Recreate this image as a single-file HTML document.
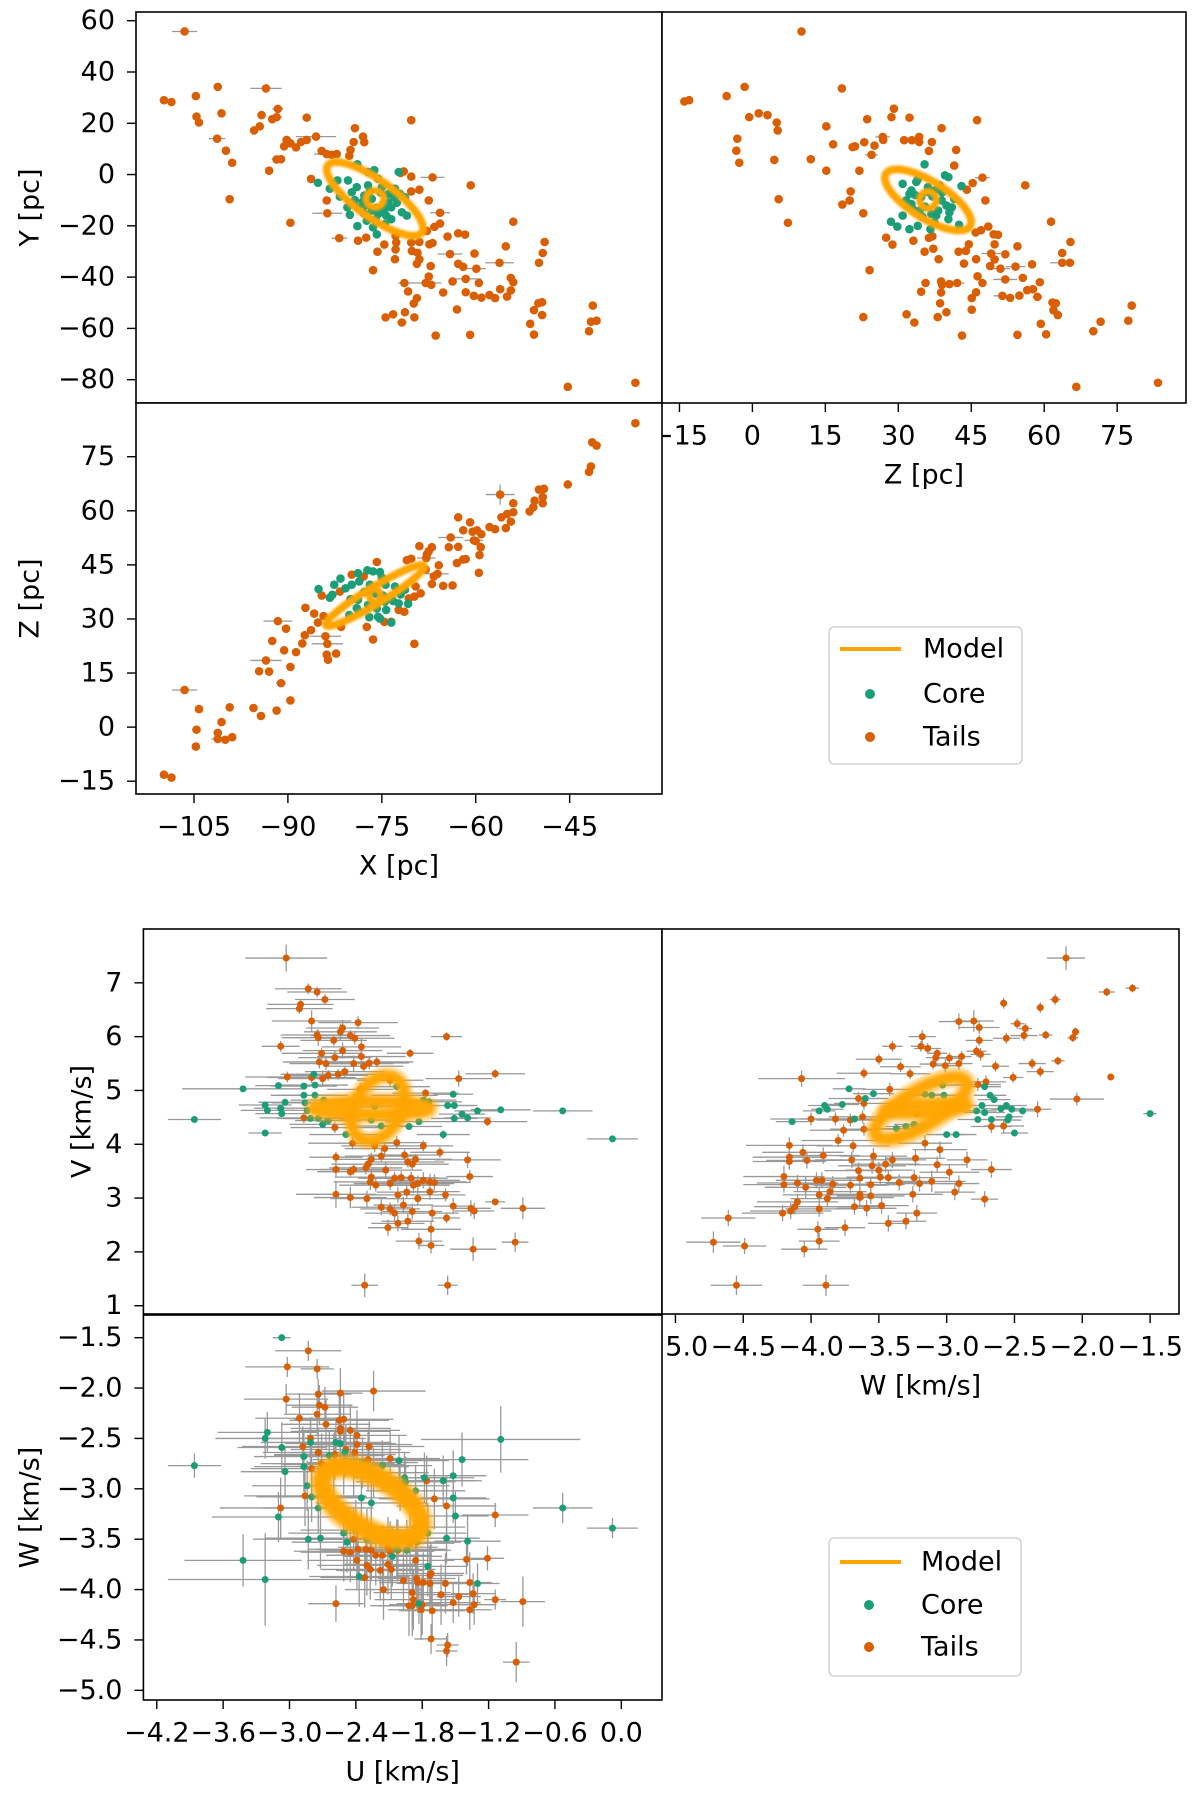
<!DOCTYPE html>
<html><head><meta charset="utf-8"><title>Cluster XYZ and UVW projections</title>
<style>
html,body{margin:0;padding:0;background:#fff;}
svg{display:block;font-family:"DejaVu Sans","Liberation Sans",sans-serif;}
</style></head>
<body>
<svg id="fig" xmlns="http://www.w3.org/2000/svg" width="1200" height="1798" viewBox="0 0 1200 1798">
<defs>
<filter id="blur1" x="-20%" y="-20%" width="140%" height="140%"><feGaussianBlur stdDeviation="0.9"/></filter>
<filter id="blur2" x="-20%" y="-20%" width="140%" height="140%"><feGaussianBlur stdDeviation="1.6"/></filter>
</defs>
<rect x="0" y="0" width="1200" height="1798" fill="#fff"/>
<g id="panels"></g>
<g>
  <rect x="829" y="627" width="193" height="137" rx="5" fill="#fff" fill-opacity="0.8" stroke="#cccccc" stroke-width="1.3"/>
  <line x1="840" y1="649" x2="901" y2="649" stroke="#ffa500" stroke-width="4"/>
  <text x="923" y="649" font-size="27" dominant-baseline="central">Model</text>
  <circle cx="870" cy="694" r="5" fill="#1b9e77"/>
  <text x="923" y="694" font-size="27" dominant-baseline="central">Core</text>
  <circle cx="870" cy="737" r="5" fill="#d95f02"/>
  <text x="923" y="737" font-size="27" dominant-baseline="central">Tails</text>
</g>
<g>
  <rect x="829" y="1538" width="192" height="138" rx="5" fill="#fff" fill-opacity="0.8" stroke="#cccccc" stroke-width="1.3"/>
  <line x1="840" y1="1562" x2="901" y2="1562" stroke="#ffa500" stroke-width="4"/>
  <text x="921" y="1562" font-size="27" dominant-baseline="central">Model</text>
  <circle cx="869" cy="1605" r="5" fill="#1b9e77"/>
  <text x="921" y="1605" font-size="27" dominant-baseline="central">Core</text>
  <circle cx="869" cy="1647" r="5" fill="#d95f02"/>
  <text x="921" y="1647" font-size="27" dominant-baseline="central">Tails</text>
</g>
</svg>
<script>
// ---------------- Panel A: X vs Y ----------------
const aTailsX = [-106.5,-109.8,-108.6,-104.7,-101.2,-93.5,-100.6,-104.6,-104.2,-101.3,
-99.9,-98.9,-99.3,-91.6,-91.8,-92.5,-94.2,-94.5,-95.4,-87.0,
-93.0,-91.8,-91.1,-90.6,-90.2,-89.6,-88.7,-87.9,-87.0,-85.5,
-79.3,-78.0,-77.8,-79.5,-80.0,-80.2,-84.6,-83.8,-83.0,-82.2,
-70.3,-89.6,-83.7,-81.8,-86.3,-83.8,-78.8,-77.5,-76.4,-75.7,
-74.6,-72.9,-72.8,-72.7,-72.8,-70.3,-70.2,-69.3,-69.0,-69.4,
-69.0,-67.2,-67.5,-67.1,-68.0,-67.4,-66.9,-66.6,-65.7,-65.7,
-67.5,-69.0,-70.3,-70.3,-71.5,-72.0,-66.9,-60.8,-64.5,-62.8,
-61.7,-64.1,-60.2,-62.8,-62.0,-59.9,-63.7,-61.6,-59.5,-65.2,
-61.6,-60.3,-59.1,-57.8,-56.9,-56.1,-55.0,-54.4,-54.4,-54.0,
-56.2,-55.2,-54.0,-49.0,-49.3,-49.9,-50.0,-49.4,-50.7,-49.4,
-51.3,-50.7,-41.3,-41.6,-40.7,-41.9,-71.3,-73.2,-74.4,-71.8,
-69.8,-69.9,-69.4,-70.8,-71.4,-66.4,-60.9,-63.0,-45.3,-34.5,-67.8];
const aTailsY = [55.8,29.0,28.3,30.6,34.2,33.6,23.9,22.6,20.3,14.0,
9.3,4.6,-9.6,25.6,22.4,21.6,23.2,18.8,17.2,22.2,
1.5,5.9,6.0,11.0,13.5,12.2,10.6,12.7,13.5,14.8,
18.1,14.8,12.6,12.7,9.6,7.3,9.2,8.0,7.7,8.0,
21.2,-18.8,-15.1,-24.8,-1.7,-10.1,-25.8,-24.6,-37.3,-30.1,
-27.3,-33.0,-29.2,-26.5,-23.9,-26.5,-29.8,-30.5,-33.1,-34.8,
-26.3,-35.7,-39.8,-43.0,-42.3,-27.2,-26.7,-20.4,-19.1,-14.9,
-10.1,-5.9,-6.6,-0.8,1.2,0.6,-1.1,-4.2,-24.2,-22.9,
-23.4,-31.0,-30.8,-34.8,-36.0,-36.7,-41.7,-40.7,-42.3,-46.0,
-45.9,-47.3,-48.0,-47.0,-48.2,-44.7,-47.6,-45.2,-40.3,-42.0,
-34.4,-28.0,-18.4,-26.3,-30.6,-34.4,-50.2,-49.8,-52.9,-54.8,
-58.2,-62.4,-51.1,-57.4,-57.0,-61.1,-53.7,-54.5,-55.7,-57.7,
-55.7,-50.3,-48.2,-45.6,-42.3,-62.8,-62.5,-52.6,-82.8,-81.2,-22.0];
const aTailsXerrIdx = [0,1,2,3,5,9,13,14,21,29,37,42,43,64,69,76,81,85,87,100,119,124];
const aTailsXerrVal = [2.0,0.6,0.6,0.5,2.5,1.3,0.9,0.9,0.8,3.2,2.0,2.4,1.3,2.5,1.6,1.9,2.0,1.5,2.5,2.3,0.8,1.0];
const aCoreX = [-85.2,-83.3,-81.7,-80.4,-78.9,-77.2,-76.2,-75.6,-79.8,-79.0,
-77.2,-77.8,-75.0,-73.9,-72.9,-72.3,-72.1,-71.3,-80.5,-80.1,
-78.8,-76.6,-75.6,-74.3,-73.5,-74.5,-76.4,-77.4,-78.9,-71.8,
-71.0,-73.5,-74.7,-76.6,-75.8,-82.1,-78.0,-76.9,-75.2,-74.0,
-73.0,-77.6,-75.9,-74.6,-79.3,-72.6,-76.0,-77.9];
const aCoreY = [-3.2,-5.5,-8.6,-2.3,4.0,1.0,1.7,-1.6,-6.9,-4.9,
-4.2,-8.2,-4.9,-7.5,-5.5,1.0,-7.5,-8.8,-12.8,-15.7,
-12.8,-14.1,-15.4,-16.0,-17.4,-19.3,-20.6,-18.0,-20.1,-14.7,
-16.0,-12.8,-11.5,-9.5,-23.3,-2.3,-10.5,-6.5,-7.0,-10.8,
-9.0,-12.0,-13.0,-13.8,-10.0,-11.0,-17.5,-15.0];
const aModelOuter = [-76.1,-9.5,-7.5,13.1,1.7,5.9];
const aModelInner = [-76.1,-9.5,1.4,0,0,3.3];
const aYTicks = [-80,-60,-40,-20,0,20,40,60];

// ---------------- Panel B: Z vs Y ----------------
const bTailsZ = [10.1,-14.0,-13.0,-5.3,-1.6,18.4,-0.65,1.3,3.1,5.0,
5.2,-3.1,-3.3,-2.7,4.5,5.4,7.3,12.0,15.2,16.6,
15.2,20.6,21.1,23.0,25.1,23.6,29.1,28.6,32.3,26.8,
26.9,24.5,31.2,32.8,34.3,34.3,36.9,36.3,38.9,46.2,
41.9,41.5,22.0,20.2,20.0,18.5,22.8,24.1,22.8,27.5,
28.8,33.1,35.4,36.3,37.0,37.2,38.3,35.6,34.7,38.8,
39.0,40.5,42.1,38.8,38.6,39.9,38.1,31.7,33.3,43.1,
43.5,42.4,43.9,44.5,46.0,46.3,47.3,46.0,45.1,45.1,
45.9,47.0,48.5,47.9,47.3,45.3,44.1,49.6,50.5,49.8,
49.1,49.8,48.9,51.0,52.0,54.1,54.5,52.0,55.6,57.5,
59.1,57.7,56.5,51.4,53.0,54.9,58.6,54.5,60.4,59.3,
56.1,61.4,61.7,62.4,61.9,62.8,63.7,63.7,65.3,65.4,
70.1,71.6,77.3,78.0,66.6,83.4];
const bTailsY = [55.8,28.5,29.0,30.6,34.2,33.6,22.4,23.9,23.2,20.3,
17.2,14.0,9.3,4.6,5.7,-9.6,-18.8,6.0,18.8,11.8,
1.5,10.7,11.0,12.6,11.3,21.6,25.7,22.4,22.2,14.7,
13.5,7.7,13.4,13.4,14.7,12.7,12.7,9.2,18.1,21.2,
9.6,3.5,1.5,-6.6,-10.1,-11.7,-15.1,-37.3,-55.6,-24.6,
-27.3,-25.8,-30.1,-24.7,-24.1,-28.9,-33.0,-42.3,-45.7,-41.7,
-43.0,-42.7,-42.3,-46.0,-50.2,-53.7,-55.6,-54.5,-57.7,-62.8,
-34.7,-30.1,-29.8,-27.2,-33.0,-39.7,-42.3,-45.9,-48.2,-52.7,
-22.6,-21.7,-20.3,-10.1,-1.2,-3.3,-5.9,-23.3,-23.5,-27.2,
-30.8,-33.1,-35.7,-36.7,-31.1,-35.9,-28.0,-40.9,-40.3,-35.0,
-42.0,-44.7,-45.1,-47.3,-48.1,-47.2,-47.7,-62.5,-62.3,-58.2,
-4.2,-18.4,-49.9,-50.2,-52.9,-54.8,-30.6,-34.4,-34.4,-26.3,
-61.1,-57.4,-57.0,-51.1,-82.8,-81.2];
const bTailsXerrIdx = [5,29,31,46,62,84,90,93,95,97,103,106,117];
const bTailsXerrVal = [0.8,1.5,1.3,0.8,1.5,1.5,2.0,2.0,2.0,2.5,1.8,1.0,2.5];
const bCoreZ = [35.4,34.0,33.7,39.6,40.3,43.0,30.9,32.3,31.6,32.7,
34.4,36.8,38.2,38.9,39.9,37.5,36.1,38.5,30.9,28.5,
29.8,32.3,34.0,36.6,37.4,40.3,42.5,41.0,34.7,32.7,
33.5,35.5,37.0,39.0,41.5,35.0,37.8,33.0,36.0,40.5];
const bCoreY = [4.0,-1.9,-2.9,-0.3,-1.0,-4.5,-3.6,-7.5,-10.1,-11.5,
-14.1,-15.4,-14.1,-10.1,-12.1,-6.2,-4.9,-4.2,-16.0,-18.4,
-20.3,-21.3,-20.0,-21.3,-18.7,-17.4,-19.6,-12.8,-8.8,-6.2,
-8.0,-12.5,-8.5,-7.0,-9.5,-16.5,-16.0,-13.5,-6.8,-14.8];
const bModelOuter = [36.1,-9.9,-8.6,10.3,2.1,6.0];
const bModelInner = [36.1,-9.9,1.7,0,0,3.3];
const bXTicks = [-15,0,15,30,45,60,75];

// ---------------- Panel C: X vs Z ----------------
const cTailsX = [-34.5,-41.4,-40.7,-41.6,-41.9,-45.3,-49.9,-49.1,-49.3,-50.6,
-49.3,-50.8,-51.4,-56.1,-54.0,-54.0,-55.0,-55.9,-54.4,-55.2,
-56.9,-57.8,-62.8,-60.9,-62.0,-60.5,-59.8,-59.1,-60.3,-60.0,
-59.2,-59.4,-59.5,-64.0,-64.3,-62.8,-62.0,-61.6,-63.0,-63.7,
-65.2,-67.0,-67.0,-67.5,-67.8,-67.9,-69.0,-65.9,-66.1,-66.7,
-68.0,-71.0,-70.3,-69.6,-68.8,-69.8,-70.7,-71.4,-72.3,-75.8,
-79.8,-77.9,-81.7,-84.6,-87.2,-85.8,-84.3,-85.2,-86.3,-87.3,
-84.0,-83.7,-83.8,-83.6,-82.3,-81.5,-77.4,-76.4,-69.8,-74.6,
-73.5,-91.6,-90.3,-92.5,-90.6,-88.7,-87.7,-93.5,-94.6,-93.0,
-89.6,-91.1,-106.5,-104.2,-99.3,-95.5,-94.3,-91.8,-89.6,-100.6,
-104.6,-101.2,-101.2,-100.0,-98.9,-104.7,-109.8,-108.6];
const cTailsZ = [84.3,79.0,78.1,72.3,70.8,67.3,65.9,66.1,63.8,62.8,
62.1,61.0,59.8,64.5,62.1,59.6,59.1,58.2,57.0,55.2,
54.9,55.5,58.2,56.8,54.6,54.2,54.6,53.5,51.8,51.6,
49.9,47.7,42.8,52.6,49.9,50.0,46.5,46.6,45.5,39.3,
39.2,39.7,49.9,48.8,47.9,46.9,50.2,44.9,42.5,41.8,
43.7,46.3,46.7,39.0,37.1,36.2,35.7,32.0,32.5,45.8,
42.3,41.8,37.6,36.5,33.1,31.5,30.8,29.0,26.9,25.5,
25.2,23.1,20.1,18.7,20.4,27.8,27.8,24.3,23.1,29.2,
29.2,29.4,27.3,23.9,21.3,20.8,23.2,18.5,15.5,15.4,
16.7,12.2,10.3,5.0,5.5,5.3,3.1,4.6,7.4,1.4,
-0.7,-1.6,-3.3,-3.5,-2.8,-5.4,-13.2,-14.0];
const cTailsXerrIdx = [13,28,33,45,48,70,71,81,87,91,92,102,105,107];
const cTailsXerrVal = [2.3,1.5,2.0,1.5,1.8,2.5,2.5,2.3,2.5,0.8,2.0,1.0,0.6,0.6];
const cTailsZerrIdx = [13,33];
const cTailsZerrVal = [2.8,1.0];
const cCoreX = [-85.1,-83.3,-82.9,-82.6,-81.6,-80.8,-79.8,-78.8,-77.3,-76.4,
-75.3,-78.6,-76.9,-74.4,-72.9,-71.3,-73.5,-74.5,-75.8,-77.2,
-78.8,-80.2,-78.6,-75.6,-75.3,-73.5,-72.3,-70.8,-74.3,-80.0,
-77.8,-76.0,-74.8,-73.2,-79.0,-75.0,-72.0,-77.0];
const cCoreZ = [38.3,35.9,36.7,39.5,41.2,38.5,39.5,42.7,43.5,43.2,
43.0,40.4,39.5,39.5,39.0,38.1,36.2,34.8,32.9,33.9,
35.3,31.1,32.0,30.6,30.1,29.0,34.3,34.2,32.5,35.5,
37.5,37.0,36.5,35.0,33.0,41.5,36.8,30.5];
const cModelOuter = [-76.1,36.5,-7.8,-8.2,0.7,-2.0];
const cModelInner = [-76.1,36.5,0.9,0,0,1.7];
const cXTicks = [-105,-90,-75,-60,-45];
const cYTicks = [-15,0,15,30,45,60,75];

// ---------------- Panel D: U vs V ----------------
const dTailsU = [-3.03,-2.83,-2.75,-2.68,-2.90,-2.91,-2.80,-2.38,-2.52,-2.54,
-2.75,-2.74,-2.60,-2.45,-2.41,-3.08,-2.52,-2.35,-2.35,-2.71,
-2.59,-2.73,-2.67,-2.42,-2.28,-2.21,-2.33,-1.58,-1.91,-1.14,
-1.47,-3.02,-2.80,-2.70,-2.65,-2.56,-2.50,-1.77,-1.21,-2.87,
-2.59,-2.43,-2.14,-1.79,-1.64,-1.39,-2.58,-2.58,-2.45,-2.42,
-2.31,-2.29,-2.26,-2.17,-2.13,-1.96,-1.93,-1.86,-1.89,-1.37,
-2.26,-2.27,-2.22,-2.09,-2.05,-1.99,-1.90,-1.88,-1.84,-1.79,
-1.73,-1.69,-2.58,-2.45,-2.30,-2.02,-1.94,-1.84,-1.73,-1.59,
-2.17,-2.09,-2.05,-1.97,-1.89,-1.71,-1.52,-1.36,-1.33,-1.14,
-0.89,-1.58,-1.93,-2.02,-2.11,-1.72,-1.83,-1.72,-1.34,-0.96,
-2.32,-1.57,-2.03,-2.23,-2.36,-2.09];
const dTailsV = [7.46,6.89,6.83,6.69,6.60,6.52,6.29,6.26,6.16,6.09,
6.03,5.98,5.93,6.02,5.97,5.82,5.74,5.81,5.63,5.69,
5.61,5.53,5.50,5.50,5.51,5.53,5.45,6.00,5.69,5.31,
5.22,5.25,5.24,5.22,5.28,5.30,5.35,4.95,4.42,4.49,
4.31,4.02,3.92,3.97,3.85,3.71,3.76,3.53,3.49,3.53,
3.56,3.63,3.72,3.78,3.52,3.80,3.67,3.72,3.63,3.40,
3.39,3.30,3.24,3.27,3.37,3.38,3.37,3.24,3.27,3.33,
3.30,3.29,3.07,3.01,2.99,3.06,3.11,2.99,3.12,3.06,
2.83,2.80,2.72,2.87,2.75,2.72,2.85,2.81,2.76,2.93,
2.81,2.63,2.57,2.53,2.45,2.42,2.20,2.12,2.05,2.18,
1.38,1.38,4.03,3.97,5.02,5.19];
const dTailsUerr = [.37,.3,.27,.27,.3,.3,.36,.36,.33,.33,
.33,.33,.3,.36,.36,.17,.36,.36,.4,.36,
.33,.33,.33,.36,.36,.33,.36,.14,.21,.27,
.3,.38,.4,.4,.36,.36,.36,.3,.36,.4,
.4,.4,.36,.27,.27,.3,.24,.27,.3,.3,
.33,.33,.33,.33,.33,.33,.33,.33,.33,.21,
.33,.33,.33,.33,.33,.33,.33,.33,.33,.33,
.33,.33,.36,.33,.33,.27,.27,.27,.27,.18,
.27,.27,.27,.27,.27,.24,.18,.18,.18,.09,
.2,.12,.24,.24,.18,.27,.21,.12,.21,.12,
.12,.09,.27,.3,.3,.3];
const dTailsVerr = [.25,.1,.1,.1,.1,.1,.2,.12,.15,.15,
.1,.15,.1,.1,.12,.1,.15,.15,.15,.1,
.12,.12,.12,.15,.12,.1,.1,.08,.08,.08,
.15,.1,.1,.15,.1,.1,.1,.08,.08,.1,
.1,.12,.12,.1,.1,.15,.1,.15,.1,.1,
.12,.12,.12,.12,.15,.1,.1,.1,.12,.12,
.15,.15,.12,.12,.12,.12,.12,.15,.15,.15,
.15,.15,.25,.2,.15,.15,.12,.12,.15,.12,
.15,.12,.15,.15,.15,.15,.15,.15,.15,.05,
.2,.1,.15,.15,.15,.15,.15,.15,.22,.18,
.22,.18,.12,.12,.12,.12];
const dCoreU = [-3.86,-3.42,-3.22,-3.22,-3.20,-3.10,-3.08,-3.07,-3.04,-2.87,
-2.87,-2.86,-2.84,-2.81,-2.77,-2.78,-2.77,-2.74,-2.70,-2.69,
-2.65,-2.49,-2.26,-2.17,-2.03,-1.96,-1.92,-1.83,-1.79,-1.74,
-1.61,-1.57,-1.52,-1.51,-1.51,-1.44,-1.39,-1.30,-1.09,-0.53,
-0.08,-2.23,-2.35];
const dCoreV = [4.46,5.03,4.21,4.73,4.63,5.09,4.67,4.57,4.78,5.08,
4.91,4.77,4.63,4.48,4.91,5.30,5.10,4.48,4.37,4.82,
4.44,4.18,4.45,4.34,5.07,4.91,4.33,4.42,4.82,4.79,
4.18,4.72,4.93,4.72,4.48,4.56,4.49,4.62,4.64,4.62,
4.10,4.70,4.82];
const dCoreUerr = [.24,.55,.15,.24,.24,.21,.24,.24,.24,.3,
.3,.3,.3,.3,.3,.3,.3,.3,.3,.3,
.3,.33,.3,.3,.3,.3,.3,.3,.3,.3,
.24,.24,.18,.21,.21,.21,.21,.21,.27,.27,
.23,.3,.3];
const dCoreVerr = [.05,.05,.06,.05,.05,.05,.05,.05,.05,.06,
.06,.06,.06,.06,.06,.06,.06,.06,.06,.06,
.06,.06,.06,.06,.06,.06,.06,.06,.06,.06,
.08,.06,.06,.06,.06,.06,.06,.06,.06,.06,
.05,.06,.06];
const dModel1 = [-2.26,4.67,0.52,0,0,0.12];
const dModel2 = [-2.2,4.67,0.1,0.6,0.22,-0.05];
const dYTicks = [1,2,3,4,5,6,7];

// ---------------- Panel E: W vs V ----------------
const eTailsW = [-2.12,-1.82,-1.63,-2.20,-2.58,-2.31,-2.91,-2.80,-2.76,-2.48,
-2.42,-2.43,-2.56,-2.76,-2.27,-2.05,-2.07,-3.18,-3.40,-3.19,
-3.14,-3.07,-3.08,-2.98,-2.89,-2.78,-2.75,-3.10,-3.01,-2.91,
-2.64,-2.37,-2.31,-2.18,-2.51,-1.79,-3.50,-3.34,-3.27,-3.61,
-4.07,-2.71,-2.04,-2.33,-4.00,-3.82,-3.71,-3.62,-3.61,-3.76,
-3.65,-3.61,-3.80,-3.69,-4.16,-4.06,-4.16,-4.16,-4.03,-3.91,
-3.70,-3.54,-3.40,-3.55,-3.50,-3.45,-3.65,-3.23,-3.07,-2.98,
-2.85,-2.67,-4.20,-4.20,-4.10,-4.04,-3.96,-3.92,-3.84,-3.71,
-3.64,-3.56,-3.49,-3.43,-3.35,-3.24,-3.20,-3.11,-2.91,-3.94,
-3.88,-3.86,-3.64,-3.64,-3.56,-3.25,-2.94,-2.72,-4.21,-4.15,
-4.12,-4.10,-3.94,-3.68,-3.59,-3.48,-3.22,-3.30,-3.43,-3.75,
-3.95,-3.94,-4.05,-4.61,-4.72,-4.49,-4.55,-3.89,-3.16,-3.05,
-2.67,-2.58,-2.77,-3.42];
const eTailsV = [7.46,6.83,6.90,6.69,6.62,6.54,6.28,6.29,6.17,6.24,
6.15,6.02,5.97,5.93,6.03,6.09,5.98,6.00,5.82,5.82,
5.78,5.69,5.61,5.60,5.63,5.73,5.67,5.49,5.46,5.50,
5.45,5.50,5.35,5.55,5.24,5.25,5.58,5.44,5.31,5.32,
5.22,5.16,4.84,4.65,4.47,4.47,4.45,4.51,4.28,4.26,
4.85,4.76,4.07,3.97,3.98,3.85,3.76,3.68,3.70,3.79,
3.71,3.78,3.71,3.60,3.52,3.63,3.51,3.74,3.62,3.48,
3.71,3.53,3.40,3.25,3.28,3.20,3.33,3.33,3.26,3.24,
3.37,3.25,3.39,3.38,3.29,3.38,3.27,3.31,3.27,3.06,
2.99,3.12,3.07,3.01,3.04,3.07,3.11,2.98,2.72,2.76,
2.84,2.93,2.80,2.84,2.81,2.86,2.72,2.57,2.53,2.45,
2.42,2.20,2.05,2.63,2.18,2.11,1.38,1.38,4.02,3.90,
4.33,4.34,5.11,5.02];
const eTailsWerr = [.14,.06,.05,.04,.025,.025,.15,.15,.15,.05,
.05,.1,.1,.1,.05,.025,.04,.1,.074,.074,
.1,.074,.074,.074,.074,.074,.074,.1,.1,.1,
.1,.1,.1,.05,.074,.025,.17,.15,.15,.2,
.32,.15,.2,.1,.3,.27,.25,.25,.25,.25,
.22,.22,.27,.27,.32,.3,.27,.27,.3,.27,
.27,.25,.25,.25,.25,.25,.25,.22,.22,.22,
.15,.15,.3,.3,.3,.3,.3,.3,.3,.27,
.27,.25,.25,.25,.25,.25,.25,.25,.15,.27,
.27,.27,.25,.25,.25,.22,.15,.1,.3,.3,
.3,.3,.25,.22,.22,.2,.15,.15,.15,.15,
.15,.15,.17,.2,.2,.16,.19,.17,.2,.2,
.15,.15,.17,.2];
const eTailsVerr = [.22,.08,.08,.1,.1,.1,.15,.2,.12,.1,
.1,.1,.1,.1,.08,.08,.08,.12,.1,.1,
.1,.1,.12,.1,.1,.1,.12,.1,.12,.12,
.1,.1,.1,.08,.1,.06,.1,.1,.1,.1,
.15,.12,.12,.15,.12,.12,.12,.12,.12,.12,
.12,.12,.12,.12,.15,.15,.15,.15,.15,.15,
.15,.15,.15,.15,.15,.15,.15,.15,.15,.15,
.15,.15,.2,.15,.15,.2,.15,.15,.15,.15,
.15,.15,.15,.15,.15,.15,.15,.2,.15,.15,
.15,.15,.15,.15,.15,.15,.15,.15,.15,.15,
.15,.15,.15,.15,.15,.15,.15,.15,.15,.15,
.15,.15,.15,.15,.2,.15,.18,.2,.15,.15,
.12,.12,.12,.12];
const eCoreW = [-1.50,-4.14,-3.94,-3.90,-3.88,-3.77,-3.72,-3.54,-3.60,-3.68,
-3.37,-3.30,-3.24,-3.16,-3.11,-3.02,-3.03,-3.00,-2.93,-2.78,
-2.74,-2.72,-2.68,-2.65,-2.72,-2.67,-2.77,-2.60,-2.56,-2.52,
-2.44,-2.54,-2.55,-2.50,-3.32,-3.22];
const eCoreV = [4.57,4.42,4.62,4.72,4.65,4.74,5.03,4.94,4.85,4.47,
4.29,4.33,4.37,4.93,4.91,4.91,5.10,4.18,4.18,4.62,
4.72,5.07,4.91,4.83,4.59,4.46,4.46,4.66,4.72,4.65,
4.62,4.51,4.45,4.21,4.70,4.57];
const eCoreWerr = [.05,.12,.12,.12,.12,.12,.12,.15,.15,.15,
.15,.15,.15,.15,.15,.15,.15,.15,.15,.15,
.15,.12,.12,.12,.15,.15,.15,.15,.15,.15,
.1,.1,.1,.1,.15,.15];
const eCoreVerr = [.04,.04,.05,.05,.05,.05,.05,.05,.05,.05,
.05,.05,.05,.05,.05,.05,.05,.05,.05,.05,
.05,.05,.05,.05,.05,.05,.05,.05,.05,.05,
.05,.05,.05,.05,.05,.05];
const eModel1 = [-3.19,4.67,0.33,0.50,0.07,-0.28];
const eModel2 = [-3.15,4.67,0.3,0.05,0,0.08];
const eXTicks = [-5.0,-4.5,-4.0,-3.5,-3.0,-2.5,-2.0,-1.5];

// ---------------- Panel F: U vs W ----------------
const fTailsU = [-2.83,-3.02,-2.75,-2.24,-2.54,-2.74,-3.03,-2.73,-2.68,-2.75,
-2.91,-2.55,-2.51,-2.67,-2.54,-2.45,-2.54,-2.39,-2.81,-2.88,
-2.74,-2.39,-2.28,-2.59,-2.49,-2.41,-2.71,-2.60,-2.51,-2.42,
-2.29,-2.09,-2.80,-1.76,-1.69,-1.58,-2.86,-3.08,-1.14,-1.86,
-2.42,-2.51,-2.45,-2.38,-2.31,-2.26,-2.22,-2.16,-2.11,-2.09,
-2.02,-1.91,-2.39,-2.30,-2.27,-2.18,-2.11,-2.08,-1.86,-2.32,
-2.15,-1.97,-1.85,-1.84,-1.79,-1.73,-1.72,-1.73,-1.59,-1.37,
-1.40,-1.21,-1.89,-1.88,-1.92,-1.89,-1.81,-1.80,-1.71,-1.63,
-1.52,-1.47,-1.34,-1.33,-1.37,-1.14,-0.89,-2.58,-1.72,-1.57,
-1.58,-0.95];
const fTailsW = [-1.63,-1.79,-1.81,-2.03,-2.05,-2.06,-2.11,-2.17,-2.19,-2.26,
-2.30,-2.32,-2.31,-2.36,-2.40,-2.42,-2.43,-2.47,-2.50,-2.58,
-2.64,-2.56,-2.58,-2.66,-2.61,-2.64,-2.75,-2.75,-2.76,-2.78,
-2.71,-2.70,-2.80,-2.92,-3.10,-3.17,-3.07,-3.19,-3.26,-3.38,
-3.50,-3.62,-3.63,-3.60,-3.60,-3.61,-3.66,-3.66,-3.58,-3.62,
-3.61,-3.54,-3.71,-3.76,-3.80,-3.81,-3.75,-3.80,-3.71,-3.88,
-4.00,-3.91,-3.89,-3.93,-3.93,-3.86,-3.84,-3.94,-3.94,-3.93,
-3.70,-3.69,-4.03,-4.10,-4.16,-4.16,-4.20,-4.15,-4.21,-4.05,
-4.13,-4.07,-4.04,-4.15,-4.20,-4.10,-4.12,-4.14,-4.49,-4.55,
-4.61,-4.72];
const fTailsUerr = [.3,.38,.15,.47,.2,.3,.38,.3,.3,.3,
.4,.45,.45,.4,.45,.45,.45,.45,.5,.55,
.5,.5,.5,.55,.5,.5,.55,.55,.55,.5,
.5,.45,.55,.5,.5,.45,.55,.55,.3,.45,
.5,.45,.45,.45,.45,.45,.45,.45,.45,.4,
.4,.4,.45,.45,.45,.4,.4,.4,.35,.4,
.35,.4,.35,.35,.35,.3,.3,.3,.3,.2,
.2,.15,.35,.35,.35,.3,.3,.3,.3,.25,
.25,.2,.2,.2,.2,.1,.2,.25,.15,.1,
.1,.12];
const fTailsWerr = [.1,.1,.1,.2,.25,.15,.15,.2,.2,.2,
.25,.25,.25,.25,.25,.25,.25,.25,.2,.2,
.25,.25,.25,.25,.25,.25,.3,.3,.3,.3,
.3,.3,.25,.25,.3,.3,.3,.3,.12,.3,
.3,.3,.3,.3,.3,.3,.3,.3,.3,.3,
.3,.3,.3,.3,.3,.3,.3,.3,.3,.3,
.3,.3,.3,.3,.3,.3,.3,.3,.3,.3,
.15,.12,.3,.3,.3,.3,.3,.3,.3,.3,
.2,.2,.2,.2,.2,.1,.25,.18,.15,.12,
.15,.2];
const fCoreU = [-3.07,-3.86,-3.20,-3.22,-3.07,-3.04,-2.87,-2.87,-2.81,-2.84,
-2.80,-2.74,-2.64,-2.58,-2.54,-2.50,-2.34,-2.24,-2.16,-2.01,
-1.96,-1.95,-2.00,-1.86,-1.78,-1.61,-1.52,-1.52,-1.50,-1.44,
-1.09,-0.53,-0.08,-3.10,-3.42,-3.22,-2.83,-2.72,-2.51,-2.48,
-2.40,-2.30,-2.37,-2.07,-2.03,-1.94,-1.85,-1.75,-1.75,-1.58,
-1.39,-1.30,-1.83,-2.26,-2.35];
const fCoreW = [-1.50,-2.77,-2.44,-2.50,-2.59,-2.83,-2.68,-2.78,-2.54,-2.97,
-3.08,-3.19,-2.67,-2.54,-2.55,-2.64,-2.74,-2.84,-2.77,-2.72,
-2.89,-2.93,-2.97,-3.02,-2.89,-2.92,-2.87,-3.09,-3.27,-2.71,
-2.51,-3.19,-3.39,-3.28,-3.71,-3.90,-3.50,-3.49,-3.44,-3.53,
-3.41,-3.50,-3.87,-3.67,-3.60,-3.61,-3.53,-3.44,-3.77,-3.49,
-3.52,-3.94,-4.14,-3.14,-3.09];
const fCoreUerr = [.08,.24,.45,.45,.4,.4,.45,.45,.45,.5,
.5,.5,.5,.5,.5,.5,.5,.5,.45,.45,
.45,.45,.45,.45,.45,.3,.3,.3,.3,.6,
.72,.27,.23,.6,.53,.88,.5,.5,.5,.5,
.5,.45,.45,.45,.45,.4,.4,.35,.35,.3,
.3,.2,.2,.5,.5];
const fCoreWerr = [.03,.12,.2,.2,.25,.25,.25,.25,.25,.25,
.25,.25,.25,.25,.25,.25,.25,.25,.25,.25,
.25,.25,.25,.25,.25,.25,.25,.25,.25,.27,
.33,.15,.1,.25,.26,.46,.3,.3,.3,.3,
.3,.3,.3,.3,.3,.3,.3,.3,.3,.25,
.25,.2,.2,.3,.3];
const fModel1 = [-2.26,-3.14,-0.455,0.30,0.14,0.255];
const fModel2 = [-2.26,-3.14,-0.40,0.26,0.10,0.18];
const fXTicks = [-4.2,-3.6,-3.0,-2.4,-1.8,-1.2,-0.6,0.0];
const fYTicks = [-5.0,-4.5,-4.0,-3.5,-3.0,-2.5,-2.0,-1.5];

// ---------------- rendering ----------------
const NS = 'http://www.w3.org/2000/svg';
const root = document.getElementById('panels');
const TAIL = '#d95f02', CORE = '#1b9e77', MODEL = '#ffa500', ERR = '#999999';

function mk(tag, attrs, parent) {
  const el = document.createElementNS(NS, tag);
  for (const k in attrs) el.setAttribute(k, attrs[k]);
  parent.appendChild(el);
  return el;
}
function sparse(n, idx, val) {
  const out = [];
  for (let i = 0; i < n; i++) out.push(0);
  idx.forEach((j, k) => { out[j] = val[k]; });
  return out;
}
function fmt(v, dec) {
  const s = Math.abs(v).toFixed(dec);
  return (v < 0 ? '\u2212' : '') + s;
}

let clipId = 0;
function drawPanel(p) {
  const g = mk('g', {}, root);
  
  
  const sx = v => p.x0 + (v - p.xmin) / (p.xmax - p.xmin) * (p.x1 - p.x0);
  const sy = v => p.y1 - (v - p.ymin) / (p.ymax - p.ymin) * (p.y1 - p.y0);

  const bg = mk('rect', {x: p.x0, y: p.y0, width: p.x1 - p.x0, height: p.y1 - p.y0, fill: '#fff'}, g);
  
  

  const cid = 'clip' + (clipId++);
  const cp = mk('clipPath', {id: cid}, g);
  mk('rect', {x: p.x0, y: p.y0, width: p.x1 - p.x0, height: p.y1 - p.y0}, cp);
  const plot = mk('g', {'clip-path': 'url(#' + cid + ')'}, g);

  const eb = mk('g', {stroke: ERR, 'stroke-width': 1.3, fill: 'none'}, plot);
  
  
  p.series.forEach(s => {
    for (let i = 0; i < s.x.length; i++) {
      const xe = (s.xe && s.xe[i]) || 0, ye = (s.ye && s.ye[i]) || 0;
      if (xe > 0) {
        const l = mk('line', {x1: sx(s.x[i] - xe), x2: sx(s.x[i] + xe), y1: sy(s.y[i]), y2: sy(s.y[i])}, eb);
        
        
      }
      if (ye > 0) {
        const l = mk('line', {x1: sx(s.x[i]), x2: sx(s.x[i]), y1: sy(s.y[i] - ye), y2: sy(s.y[i] + ye)}, eb);
        
        
      }
    }
  });
  p.series.forEach(s => {
    const sg = mk('g', {fill: s.color}, plot);
    
    
    for (let i = 0; i < s.x.length; i++) {
      const c = mk('circle', {cx: sx(s.x[i]), cy: sy(s.y[i]), r: p.r}, sg);
      
      
    }
  });
  const mg = mk('g', {fill: 'none', stroke: MODEL, filter: p.blur}, plot);
  
  
  p.models.forEach(m => {
    let d = '';
    for (let k = 0; k <= 96; k++) {
      const t = k / 96 * 2 * Math.PI;
      const X = m.e[0] + m.e[2] * Math.cos(t) + m.e[4] * Math.sin(t);
      const Y = m.e[1] + m.e[3] * Math.cos(t) + m.e[5] * Math.sin(t);
      d += (k ? 'L' : 'M') + sx(X).toFixed(2) + ' ' + sy(Y).toFixed(2);
    }
    const path = mk('path', {d: d + 'Z', 'stroke-width': m.w, 'stroke-opacity': m.o}, mg);
    
    
  });
  const fr = mk('rect', {x: p.x0, y: p.y0, width: p.x1 - p.x0, height: p.y1 - p.y0, fill: 'none', stroke: '#000', 'stroke-width': 1.6}, g);
  
  

  if (p.xticks) {
    const tg = mk('g', {}, g);
    
    
    p.xticks.forEach(v => {
      const X = sx(v);
      const t = mk('line', {x1: X, x2: X, y1: p.y1, y2: p.y1 + 9, stroke: '#000', 'stroke-width': 1.4}, tg);
      
      
      const lb = mk('text', {x: X, y: p.y1 + 33, 'font-size': 27, 'text-anchor': 'middle', 'dominant-baseline': 'central'}, tg);
      lb.textContent = fmt(v, p.xdec);
      
      
    });
    const xt = mk('text', {x: (p.x0 + p.x1) / 2, y: p.y1 + 72, 'font-size': 27, 'text-anchor': 'middle', 'dominant-baseline': 'central'}, tg);
    xt.textContent = p.xlabel;
    
    
  }
  if (p.yticks) {
    const tg = mk('g', {}, g);
    
    
    p.yticks.forEach(v => {
      const Y = sy(v);
      const t = mk('line', {x1: p.x0 - 9, x2: p.x0, y1: Y, y2: Y, stroke: '#000', 'stroke-width': 1.4}, tg);
      
      
      const lb = mk('text', {x: p.x0 - 21, y: Y, 'font-size': 27, 'text-anchor': 'end', 'dominant-baseline': 'central'}, tg);
      lb.textContent = fmt(v, p.ydec);
      
      
    });
    const cy = (p.y0 + p.y1) / 2;
    const yt = mk('text', {x: p.ylabelX, y: cy, 'font-size': 27, 'text-anchor': 'middle', 'dominant-baseline': 'central', transform: 'rotate(-90 ' + p.ylabelX + ' ' + cy + ')'}, tg);
    yt.textContent = p.ylabel;
    
    
  }
}

const topModel = (o, i) => [{e: o, w: 10, o: 0.4}, {e: o, w: 6.5, o: 1}, {e: i, w: 9, o: 0.4}, {e: i, w: 5.5, o: 1}];

drawPanel({name: 'xy-panel', x0: 136, x1: 662, y0: 12, y1: 403, xmin: -114.26, xmax: -30.25, ymin: -89.1, ymax: 63.4,
  r: 4.3, blur: 'url(#blur1)',
  series: [
    {label: 'tails', color: TAIL, x: aTailsX, y: aTailsY, xe: sparse(aTailsX.length, aTailsXerrIdx, aTailsXerrVal)},
    {label: 'core', color: CORE, x: aCoreX, y: aCoreY}],
  models: topModel(aModelOuter, aModelInner),
  yticks: aYTicks, ydec: 0, ylabel: 'Y [pc]', ylabelX: 30});

drawPanel({name: 'zy-panel', x0: 662, x1: 1186, y0: 12, y1: 403, xmin: -18.59, xmax: 89.16, ymin: -89.1, ymax: 63.4,
  r: 4.3, blur: 'url(#blur1)',
  series: [
    {label: 'tails', color: TAIL, x: bTailsZ, y: bTailsY, xe: sparse(bTailsZ.length, bTailsXerrIdx, bTailsXerrVal)},
    {label: 'core', color: CORE, x: bCoreZ, y: bCoreY}],
  models: topModel(bModelOuter, bModelInner),
  xticks: bXTicks, xdec: 0, xlabel: 'Z [pc]'});

drawPanel({name: 'xz-panel', x0: 136, x1: 662, y0: 403, y1: 794, xmin: -114.26, xmax: -30.25, ymin: -18.55, ymax: 89.9,
  r: 4.3, blur: 'url(#blur1)',
  series: [
    {label: 'tails', color: TAIL, x: cTailsX, y: cTailsZ, xe: sparse(cTailsX.length, cTailsXerrIdx, cTailsXerrVal), ye: sparse(cTailsX.length, cTailsZerrIdx, cTailsZerrVal)},
    {label: 'core', color: CORE, x: cCoreX, y: cCoreZ}],
  models: topModel(cModelOuter, cModelInner),
  xticks: cXTicks, xdec: 0, xlabel: 'X [pc]',
  yticks: cYTicks, ydec: 0, ylabel: 'Z [pc]', ylabelX: 30});

const lowModel = (a, b) => [{e: a, w: 20, o: 0.45}, {e: a, w: 11, o: 0.95}, {e: b, w: 18, o: 0.45}, {e: b, w: 10, o: 0.95}];

drawPanel({name: 'uv-panel', x0: 143.4, x1: 662, y0: 929, y1: 1314, xmin: -4.321, xmax: 0.368, ymin: 0.846, ymax: 8.0,
  r: 3.5, blur: 'url(#blur2)',
  series: [
    {label: 'tails', color: TAIL, x: dTailsU, y: dTailsV, xe: dTailsUerr, ye: dTailsVerr},
    {label: 'core', color: CORE, x: dCoreU, y: dCoreV, xe: dCoreUerr, ye: dCoreVerr}],
  models: lowModel(dModel1, dModel2),
  yticks: dYTicks, ydec: 0, ylabel: 'V [km/s]', ylabelX: 82});

drawPanel({name: 'wv-panel', x0: 662, x1: 1179, y0: 929, y1: 1314, xmin: -5.099, xmax: -1.287, ymin: 0.846, ymax: 8.0,
  r: 3.5, blur: 'url(#blur2)',
  series: [
    {label: 'tails', color: TAIL, x: eTailsW, y: eTailsV, xe: eTailsWerr, ye: eTailsVerr},
    {label: 'core', color: CORE, x: eCoreW, y: eCoreV, xe: eCoreWerr, ye: eCoreVerr}],
  models: lowModel(eModel1, eModel2),
  xticks: eXTicks, xdec: 1, xlabel: 'W [km/s]'});

drawPanel({name: 'uw-panel', x0: 143.4, x1: 662, y0: 1315, y1: 1700, xmin: -4.321, xmax: 0.368, ymin: -5.096, ymax: -1.275,
  r: 3.5, blur: 'url(#blur2)',
  series: [
    {label: 'tails', color: TAIL, x: fTailsU, y: fTailsW, xe: fTailsUerr, ye: fTailsWerr},
    {label: 'core', color: CORE, x: fCoreU, y: fCoreW, xe: fCoreUerr, ye: fCoreWerr}],
  models: lowModel(fModel1, fModel2),
  xticks: fXTicks, xdec: 1, xlabel: 'U [km/s]',
  yticks: fYTicks, ydec: 1, ylabel: 'W [km/s]', ylabelX: 30});
</script>
</body></html>
